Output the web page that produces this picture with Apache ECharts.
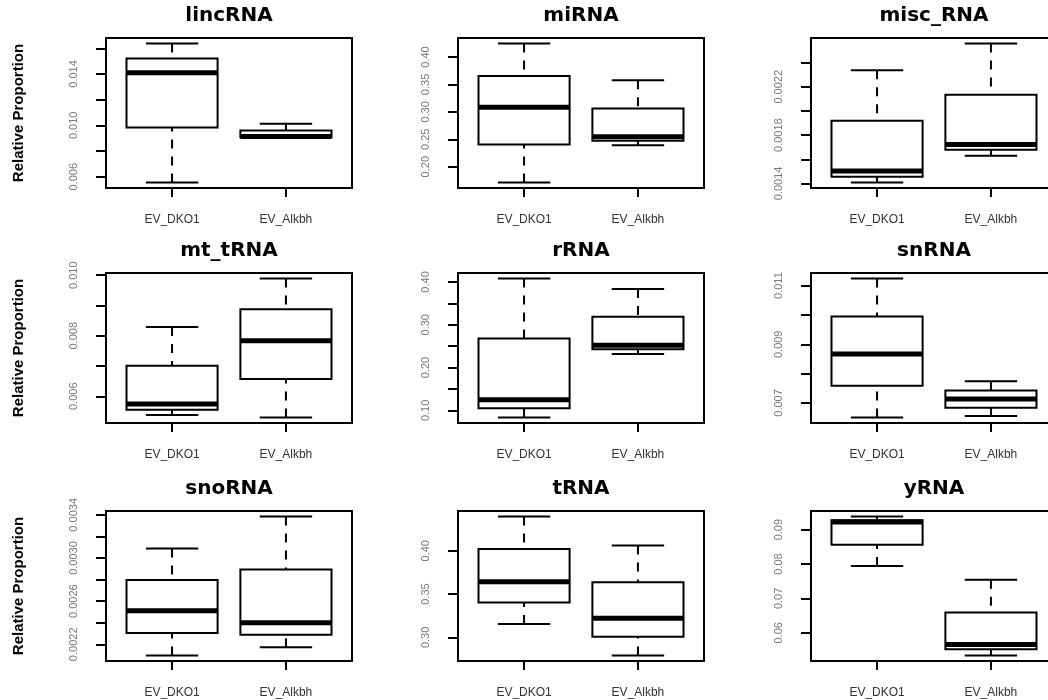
<html>
<head>
<meta charset="utf-8" />
<title>Relative proportion boxplots</title>
<script src="https://cdn.jsdelivr.net/npm/echarts@6/dist/echarts.min.js"></script>
<style type="text/css">
html, body { margin: 0; padding: 0; background: #fff; }
#echarts { width: 1048px; height: 700px; }
</style>
</head>
<body>
<div id="echarts"></div>

<script type="text/javascript">

var panelNames = ['lincRNA', 'miRNA', 'misc_RNA', 'mt_tRNA', 'rRNA', 'snRNA', 'snoRNA', 'tRNA', 'yRNA'];
var groupNames = ['EV_DKO1', 'EV_Alkbh'];

// [lower whisker, Q1, median, Q3, upper whisker]
var dko1Stats = [
    [0.00555, 0.00983, 0.0141, 0.0152, 0.01637],
    [0.1713, 0.2403, 0.3085, 0.3653, 0.4245],
    [0.001408, 0.001456, 0.001503, 0.001919, 0.002338],
    [0.005378, 0.005556, 0.005744, 0.00701, 0.00829],
    [0.0835, 0.1047, 0.1251, 0.2678, 0.4079],
    [0.006506, 0.007586, 0.008667, 0.00995, 0.01124],
    [0.002097, 0.002304, 0.00251, 0.002797, 0.003087],
    [0.3155, 0.3403, 0.3643, 0.4019, 0.4395],
    [0.0794, 0.0856, 0.0922, 0.0927, 0.0938]
];
var alkbhStats = [
    [0.00905, 0.00907, 0.00913, 0.00959, 0.01012],
    [0.2391, 0.2471, 0.2544, 0.3061, 0.3574],
    [0.00163, 0.001678, 0.001722, 0.002135, 0.002558],
    [0.0053, 0.006567, 0.007833, 0.008878, 0.00989],
    [0.2319, 0.2429, 0.2524, 0.3189, 0.3835],
    [0.006552, 0.006839, 0.007138, 0.007425, 0.007736],
    [0.002172, 0.002288, 0.0024, 0.002893, 0.003384],
    [0.2791, 0.3008, 0.3221, 0.3636, 0.4062],
    [0.0534, 0.0552, 0.0566, 0.0659, 0.0754]
];

// y tick marks and the labels R kept
var tickValues = [
    [0.006, 0.008, 0.010, 0.012, 0.014, 0.016],
    [0.20, 0.25, 0.30, 0.35, 0.40],
    [0.0014, 0.0016, 0.0018, 0.0020, 0.0022, 0.0024],
    [0.006, 0.007, 0.008, 0.009, 0.010],
    [0.10, 0.15, 0.20, 0.25, 0.30, 0.35, 0.40],
    [0.007, 0.008, 0.009, 0.010, 0.011],
    [0.0022, 0.0024, 0.0026, 0.0028, 0.0030, 0.0032, 0.0034],
    [0.30, 0.35, 0.40],
    [0.06, 0.07, 0.08, 0.09]
];
var tickLabels = [
    ['0.006', '0.010', '0.014'],
    ['0.20', '0.25', '0.30', '0.35', '0.40'],
    ['0.0014', '0.0018', '0.0022'],
    ['0.006', '0.008', '0.010'],
    ['0.10', '0.20', '0.30', '0.40'],
    ['0.007', '0.009', '0.011'],
    ['0.0022', '0.0026', '0.0030', '0.0034'],
    ['0.30', '0.35', '0.40'],
    ['0.06', '0.07', '0.08', '0.09']
];

var myChart = echarts.init(document.getElementById('echarts'));

var colLeft = [106, 458, 811];
var rowTop = [38, 273, 511];
var plotW = 246, plotH = 150;
var boxWidth = 0.8, capWidth = 0.46;

function renderBox(params, api) {
    var x = api.value(0);
    var v = [api.value(1), api.value(2), api.value(3), api.value(4), api.value(5)];
    var p = function (dx, val) { return api.coord([x + dx, val]); };
    var line = function (a, b, style) {
        return { type: 'line', shape: { x1: a[0], y1: a[1], x2: b[0], y2: b[1] }, style: style };
    };
    var solid = { stroke: '#000', lineWidth: 2 };
    var dashed = { stroke: '#000', lineWidth: 2, lineDash: [9, 8] };
    var tl = p(-boxWidth / 2, v[3]);
    var br = p(boxWidth / 2, v[1]);
    return {
        type: 'group',
        children: [
            line(p(0, v[4]), p(0, v[3]), dashed),
            line(p(0, v[0]), p(0, v[1]), dashed),
            line(p(-capWidth / 2, v[4]), p(capWidth / 2, v[4]), solid),
            line(p(-capWidth / 2, v[0]), p(capWidth / 2, v[0]), solid),
            { type: 'rect', shape: { x: tl[0], y: tl[1], width: br[0] - tl[0], height: br[1] - tl[1] },
              style: { fill: 'transparent', stroke: '#000', lineWidth: 2 } },
            line(p(-boxWidth / 2, v[2]), p(boxWidth / 2, v[2]), { stroke: '#000', lineWidth: 5 })
        ]
    };
}

var titles = [], grids = [], xAxes = [], yAxes = [], series = [];

panelNames.forEach(function (name, i) {
    var row = Math.floor(i / 3), col = i % 3;
    var lo = Math.min(dko1Stats[i][0], alkbhStats[i][0]);
    var hi = Math.max(dko1Stats[i][4], alkbhStats[i][4]);
    var pad = (hi - lo) * 0.04;
    var labels = tickLabels[i];

    titles.push({
        text: name,
        left: colLeft[col] + plotW / 2,
        top: rowTop[row] - 32,
        textAlign: 'center',
        padding: 0,
        textStyle: { fontFamily: 'DejaVu Sans', fontWeight: 'bold', fontSize: 20, color: '#000' }
    });
    grids.push({
        left: colLeft[col], top: rowTop[row], width: plotW, height: plotH,
        containLabel: false, outerBoundsMode: 'none',
        show: true, borderColor: '#000', borderWidth: 2, backgroundColor: 'transparent'
    });
    xAxes.push({
        type: 'value', gridIndex: i, min: 0.42, max: 2.58,
        axisLine: { show: false },
        splitLine: { show: false },
        axisTick: { show: true, length: 9, lineStyle: { color: '#000', width: 2 }, customValues: [1, 2] },
        axisLabel: {
            show: true, margin: 26, customValues: [1, 2],
            fontFamily: 'Liberation Sans', fontSize: 12, color: '#333',
            formatter: function (val) { return groupNames[Math.round(val) - 1]; }
        }
    });
    yAxes.push({
        type: 'value', gridIndex: i, min: lo - pad, max: hi + pad,
        name: col === 0 ? 'Relative Proportion' : '',
        nameLocation: 'middle', nameGap: 80,
        nameTextStyle: { fontFamily: 'Liberation Sans', fontWeight: 'bold', fontSize: 15, color: '#000' },
        axisLine: { show: false },
        splitLine: { show: false },
        axisTick: { show: true, length: 10, lineStyle: { color: '#000', width: 2 }, customValues: tickValues[i] },
        axisLabel: {
            show: true, rotate: 90, margin: 27,
            customValues: labels.map(function (s) { return parseFloat(s); }),
            fontFamily: 'Liberation Sans', fontSize: 11, color: '#7a7a7a',
            formatter: function (val) {
                for (var k = 0; k < labels.length; k++) {
                    if (Math.abs(parseFloat(labels[k]) - val) < 1e-9) return labels[k];
                }
                return '';
            }
        }
    });
    series.push({
        type: 'custom',
        xAxisIndex: i, yAxisIndex: i,
        renderItem: renderBox,
        encode: { x: 0, y: [1, 2, 3, 4, 5] },
        data: [[1].concat(dko1Stats[i]), [2].concat(alkbhStats[i])],
        silent: true
    });
});

var option = {
    backgroundColor: '#fff',
    animation: false,
    title: titles,
    grid: grids,
    xAxis: xAxes,
    yAxis: yAxes,
    series: series
};

myChart.setOption(option);

</script>
</body>
</html>
